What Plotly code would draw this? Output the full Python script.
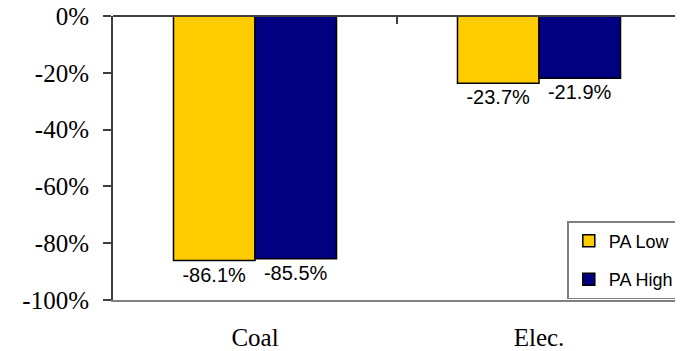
import plotly.graph_objects as go

categories = ["Coal", "Elec."]
pa_low = [-86.1, -23.7]
pa_high = [-85.5, -21.9]
series_names = ["PA Low", "PA High"]
y_ticks = [0, -20, -40, -60, -80, -100]
y_tick_labels = ["0%", "-20%", "-40%", "-60%", "-80%", "-100%"]

colors = ["#FFCC00", "#000080"]
SERIF = "Liberation Serif"
SANS = "Liberation Sans"

fig = go.Figure()
for name, vals, col, grp in zip(series_names, [pa_low, pa_high], colors, ["a", "b"]):
    fig.add_trace(go.Bar(
        x=categories, y=vals, name=name, legendgroup=grp,
        marker=dict(color=col, line=dict(color="black", width=1.5)),
        text=[f"{v:.1f}%" for v in vals],
        textposition="outside",
        textfont=dict(family=SANS, size=20, color="black"),
        cliponaxis=False,
    ))

# page body has an 8px margin, so the figure is sized to the remaining area
fig.update_layout(
    width=675, height=343,
    margin=dict(l=105, r=2, t=8, b=51, autoexpand=False),
    paper_bgcolor="white", plot_bgcolor="white",
    barmode="group", bargap=0.426, bargroupgap=0,
    showlegend=True,
    legend=dict(
        x=0.997, xanchor="right", y=0.003, yanchor="bottom",
        bordercolor="#808080", borderwidth=1.5, bgcolor="white",
        font=dict(family=SANS, size=18, color="black"),
        tracegroupgap=12, itemwidth=30,
    ),
    xaxis=dict(
        showline=True, linecolor="#808080", linewidth=2, mirror=False,
        ticks="", showgrid=False, automargin=False,
        tickfont=dict(family=SERIF, size=25, color="black"),
        ticklabelstandoff=14,
    ),
    yaxis=dict(
        range=[-100, 0], tickvals=y_ticks, ticktext=y_tick_labels,
        showline=True, linecolor="#404040", linewidth=2, automargin=False,
        ticks="outside", ticklen=8, tickwidth=2, tickcolor="#404040",
        showgrid=False, zeroline=False, ticklabeloverflow="allow",
        tickfont=dict(family=SERIF, size=25, color="black"),
        ticklabelstandoff=9,
    ),
    shapes=[
        dict(type="line", xref="paper", yref="paper", x0=0, x1=1, y0=1, y1=1,
             line=dict(color="#404040", width=2)),
        dict(type="line", xref="paper", yref="paper", x0=1, x1=1, y0=0, y1=1,
             line=dict(color="#808080", width=2)),
        dict(type="line", xref="paper", yref="paper", x0=0.5, x1=0.5, y0=1, y1=0.972,
             line=dict(color="#404040", width=2)),
    ],
)

fig.write_html("out.html")
